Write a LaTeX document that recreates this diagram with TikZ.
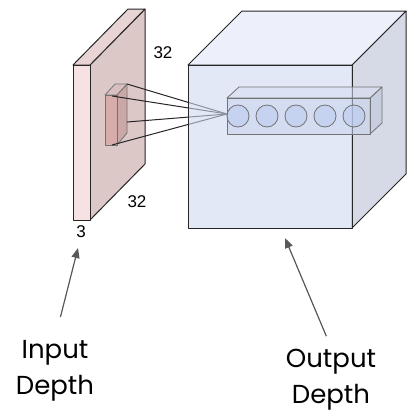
\documentclass[tikz,border=0pt]{standalone}
\usepackage{fontspec}
\setmainfont{Liberation Sans}
\newfontfamily\lblfont{Poppins}
\usetikzlibrary{arrows.meta}
\definecolor{slabfront}{HTML}{F6E2E2}
\definecolor{slabtop}{HTML}{E9D4D4}
\definecolor{slabside}{HTML}{DDC8C8}
\definecolor{filtfront}{HTML}{D9A8A8}
\definecolor{filtside}{HTML}{C8A2A2}
\definecolor{cubefront}{HTML}{D0D9F0}
\definecolor{cubetop}{HTML}{EDF0FA}
\definecolor{cubeside}{HTML}{D6DAE6}
\definecolor{rowfront}{HTML}{C8D3EE}
\definecolor{rowtop}{HTML}{D6DEF2}
\definecolor{rowside}{HTML}{BCC5DC}
\definecolor{cellfill}{HTML}{BDCDF0}

\begin{document}
\begin{tikzpicture}[x=1pt,y=-1pt,line join=round,
  face/.style={draw=black!85,line width=1pt},
  thin face/.style={draw=black!55,line width=0.8pt},
  ptr/.style={-{Triangle[length=10pt,width=8pt]},draw=black!65,fill=black!65,line width=1.2pt},
  dim/.style={font=\fontsize{17}{20}\selectfont,inner sep=0pt},
  big/.style={font=\lblfont\fontsize{26}{36}\selectfont,align=center,inner sep=2pt}]
\useasboundingbox (0,0) rectangle (407,416);
% input slab
\draw[face,fill=slabside] (90,65) -- (145,9) -- (145,164) -- (90,220) -- cycle;
\draw[face,fill=slabtop] (73,65) -- (128,9) -- (145,9) -- (90,65) -- cycle;
\draw[face,fill=slabfront] (73,65) rectangle (90,220);
% filter
\draw[thin face,fill=filtside,fill opacity=0.85] (117,95) -- (127,84) -- (127,133) -- (117,145) -- cycle;
\draw[thin face,fill=filtside!70,fill opacity=0.85] (105,95) -- (115,84) -- (127,84) -- (117,95) -- cycle;
\draw[thin face,fill=filtfront,fill opacity=0.85] (105,95) rectangle (117,145);
\coordinate (focus) at (227,114);
\foreach \p in {(127,84),(112,96),(127,122),(112,145)}
  \draw[black!85,line width=1pt] \p -- (focus);
% output volume
\draw[face,fill=cubeside] (352,65) -- (406,11) -- (406,174) -- (352,228) -- cycle;
\draw[face,fill=cubetop] (188,65) -- (242,11) -- (406,11) -- (352,65) -- cycle;
\draw[face,fill=cubefront,fill opacity=0.6] (188,65) rectangle (352,228);
\draw[thin face,fill=rowside,fill opacity=0.55] (370,98) -- (382,87) -- (382,123) -- (370,134) -- cycle;
\draw[thin face,fill=rowtop,fill opacity=0.55] (227,98) -- (239,87) -- (382,87) -- (370,98) -- cycle;
\draw[thin face,fill=rowfront,fill opacity=0.55] (227,98) rectangle (370,134);
\foreach \k in {0,...,4}
  \draw[thin face,fill=cellfill,fill opacity=0.6] ({238+29*\k},116) circle (11);
% sizes
\node[dim] (w_in) at (163,53) {32};
\node[dim] (h_in) at (137,202) {32};
\node[dim] (d_in) at (81,232) {3};
% labels
\coordinate (in_tip) at (78,248);
\coordinate (out_tip) at (285,238);
\node[big] (in_lbl) at (55,371) {Input\\Depth};
\node[big] (out_lbl) at (331,380) {Output\\Depth};
\draw[ptr,shorten <=22pt] (in_lbl.north) -- (in_tip);
\draw[ptr,shorten <=12pt] (out_lbl.north) -- (out_tip);
\end{tikzpicture}
\end{document}
